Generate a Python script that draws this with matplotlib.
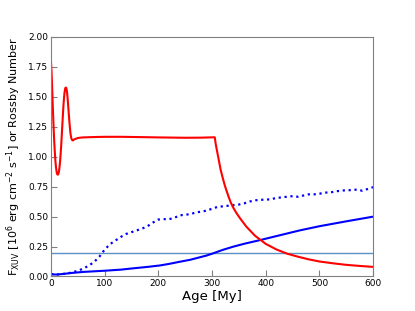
import numpy as np
import matplotlib
matplotlib.use("Agg")
import matplotlib.pyplot as plt

# Red curve: F_XUV
red_t = [0, 1, 2, 3, 4, 5, 6, 7, 8, 9, 10, 11, 12, 13, 14, 15, 16, 17, 18, 19, 20, 21, 22, 23, 24, 25, 26, 27, 28, 29, 30,
         31, 32, 33, 34, 35, 36, 37, 38, 39, 40, 41, 42, 44, 47, 50, 55, 60, 80, 100, 130, 160, 200, 250, 280, 305,
         307, 310, 313, 316, 320, 324, 330, 335, 340, 346, 353, 364, 380, 400, 420, 440, 460, 480, 500, 525, 550, 575, 600]
red_v = [1.78, 1.70, 1.58, 1.45, 1.33, 1.22, 1.12, 1.04, 0.97, 0.92, 0.885, 0.86, 0.85, 0.85, 0.86, 0.885, 0.92, 0.97,
         1.03, 1.10, 1.18, 1.26, 1.34, 1.42, 1.48, 1.53, 1.56, 1.575, 1.575, 1.56, 1.53,
         1.48, 1.42, 1.36, 1.30, 1.25, 1.20, 1.17, 1.15, 1.14, 1.135, 1.135, 1.14, 1.145, 1.15, 1.155, 1.158, 1.16,
         1.163, 1.165, 1.165, 1.163, 1.16, 1.157, 1.158, 1.161,
         1.10, 1.03, 0.96, 0.89, 0.82, 0.755, 0.675, 0.615, 0.57, 0.525, 0.48, 0.415, 0.34, 0.272, 0.225, 0.19, 0.165,
         0.143, 0.125, 0.11, 0.097, 0.088, 0.08]

# Blue solid: Rossby number
ros_t = [0, 5, 10, 20, 40, 60, 80, 100, 130, 153, 180, 203, 220, 240, 260, 277, 290, 302, 320, 339, 360, 389, 420,
         464, 501, 550, 600]
ros_v = [0.02, 0.017, 0.016, 0.02, 0.03, 0.038, 0.043, 0.048, 0.057, 0.068, 0.08, 0.092, 0.105, 0.123, 0.14, 0.16,
         0.175, 0.193, 0.222, 0.248, 0.273, 0.303, 0.337, 0.385, 0.42, 0.46, 0.499]

# Blue dotted
dot_t = [0, 10, 20, 30, 35, 40, 50, 60, 70, 80, 90, 100, 110, 120, 130, 140, 150, 160, 170, 180, 190, 200, 210,
         220, 230, 240, 250, 260, 270, 280, 290, 300, 310, 320, 330, 340, 350, 360, 370, 380, 390, 400, 410, 420,
         430, 440, 450, 460, 470, 480, 490, 500, 510, 520, 530, 540, 550, 560, 570, 580, 590, 600]
dot_v = [0.02, 0.016, 0.02, 0.025, 0.03, 0.035, 0.048, 0.065, 0.09, 0.12, 0.165, 0.225, 0.27, 0.30, 0.33, 0.355,
         0.37, 0.385, 0.40, 0.42, 0.45, 0.475, 0.478, 0.478, 0.49, 0.51, 0.515, 0.52, 0.535, 0.54, 0.55, 0.565,
         0.58, 0.585, 0.59, 0.595, 0.60, 0.61, 0.625, 0.635, 0.64, 0.64, 0.645, 0.655, 0.66, 0.665, 0.67, 0.665,
         0.675, 0.685, 0.685, 0.69, 0.70, 0.70, 0.71, 0.715, 0.72, 0.72, 0.725, 0.715, 0.73, 0.745]

hline_y = 0.2

x_ticks = [0, 100, 200, 300, 400, 500, 600]
y_ticks = [0.0, 0.25, 0.5, 0.75, 1.0, 1.25, 1.5, 1.75, 2.0]

fig = plt.figure(figsize=(4.15, 3.11), dpi=100)
ax = fig.add_axes([0.123, 0.111, 0.776, 0.771])

ax.axhline(hline_y, color='#5b8fc7', lw=1.0)
ax.plot(dot_t, dot_v, color='b', lw=1.6, ls=':')
ax.plot(ros_t, ros_v, color='b', lw=1.5)
ax.plot(red_t, red_v, color='r', lw=1.5)

ax.set_xlim(0, 600)
ax.set_ylim(0, 2.0)
ax.set_xticks(x_ticks)
ax.set_yticks(y_ticks)
ax.set_yticklabels(['%.2f' % v for v in y_ticks])
for s in ax.spines.values():
    s.set_color('#808080')
ax.tick_params(direction='in', length=4, color='#808080', labelsize=6.5, top=False, right=False, pad=2)
ax.set_xlabel('Age [My]', fontsize=9.5, labelpad=1)
ax.set_ylabel(r'F$_{\rm XUV}$ [10$^6$ erg cm$^{-2}$ s$^{-1}$] or Rossby Number', fontsize=8, labelpad=4)

fig.savefig('out.png', dpi=100)
